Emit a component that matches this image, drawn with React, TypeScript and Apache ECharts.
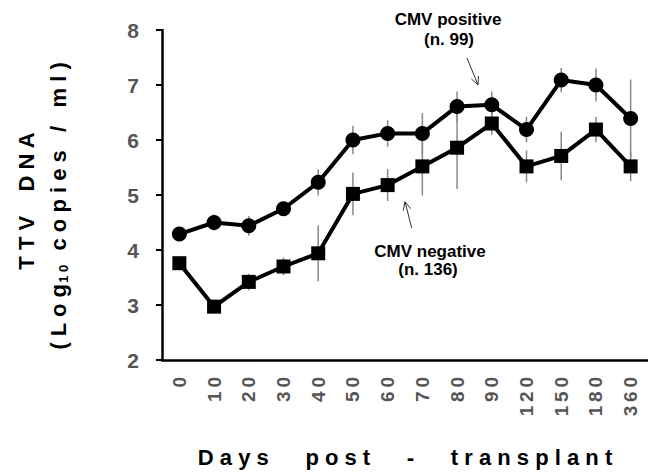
import React, { useEffect, useRef } from "react";
import * as echarts from "echarts";

const categories = ["0", "10", "20", "30", "40", "50", "60", "70", "80", "90", "120", "150", "180", "360"];
const positiveMean = [4.29, 4.5, 4.44, 4.75, 5.23, 6.0, 6.12, 6.12, 6.61, 6.64, 6.19, 7.09, 7.0, 6.39];
const positiveErr = [0.08, 0.15, 0.18, 0.1, 0.24, 0.26, 0.24, 0.37, 0.27, 0.24, 0.23, 0.22, 0.3, 0.71];
const negativeMean = [3.76, 2.97, 3.42, 3.7, 3.94, 5.02, 5.18, 5.52, 5.86, 6.3, 5.52, 5.71, 6.19, 5.52];
const negativeErr = [0.06, 0.05, 0.15, 0.16, 0.51, 0.39, 0.29, 0.53, 0.75, 0.21, 0.29, 0.44, 0.23, 0.27];
const yTicks = { min: 2, max: 8, interval: 1 };

const FONT = "'Liberation Sans', Arial, sans-serif";

function errData(mean: number[], err: number[]) {
  return mean.map((m, i) => [i, m, err[i]]);
}

function arrow(x1: number, y1: number, x2: number, y2: number) {
  const dx = x2 - x1, dy = y2 - y1;
  const len = Math.sqrt(dx * dx + dy * dy);
  const bx = -dx / len, by = -dy / len;
  const a = (25 * Math.PI) / 180, h = 9;
  const c = Math.cos(a), s = Math.sin(a);
  const w1 = [x2 + h * (bx * c - by * s), y2 + h * (bx * s + by * c)];
  const w2 = [x2 + h * (bx * c + by * s), y2 + h * (-bx * s + by * c)];
  const st = { stroke: "#333", lineWidth: 1, fill: null };
  return [
    { type: "line", shape: { x1, y1, x2, y2 }, style: st },
    { type: "polyline", shape: { points: [w1, [x2, y2], w2] }, style: st },
  ];
}

export default function App() {
  const ref = useRef<HTMLDivElement>(null);
  useEffect(() => {
    const chart = echarts.init(ref.current!, null, { renderer: "svg" });
    const errorSeries = (mean: number[], err: number[]) => ({
      type: "custom",
      z: 1,
      renderItem: (params: any, api: any) => {
        const x = api.value(0), y = api.value(1), e = api.value(2);
        const t = api.coord([x, y + e]);
        const b = api.coord([x, y - e]);
        return {
          type: "line",
          shape: { x1: t[0], y1: t[1], x2: b[0], y2: b[1] },
          style: { stroke: "#888", lineWidth: 1.5 },
        };
      },
      data: errData(mean, err),
    });
    chart.setOption({
      animation: false,
      grid: { left: 162, top: 30, bottom: 113, right: -7 },
      xAxis: {
        type: "category",
        data: categories,
        axisLine: { lineStyle: { color: "#000", width: 2.5 } },
        axisTick: { show: false },
        axisLabel: {
          rotate: 90,
          fontSize: 19,
          fontWeight: "bold",
          color: "#555",
          fontFamily: FONT,
          margin: 17,
          formatter: (v: string) => v.split("").join("\u2009"),
        },
      },
      yAxis: {
        type: "value",
        min: yTicks.min,
        max: yTicks.max,
        interval: yTicks.interval,
        splitLine: { show: false },
        axisLine: { show: true, lineStyle: { color: "#000", width: 2.5 } },
        axisTick: { show: true, length: 6, lineStyle: { color: "#000", width: 2 } },
        axisLabel: {
          fontSize: 21,
          fontWeight: "bold",
          color: "#555",
          fontFamily: FONT,
          margin: 23,
        },
      },
      series: [
        errorSeries(positiveMean, positiveErr),
        errorSeries(negativeMean, negativeErr),
        {
          type: "line",
          name: "CMV positive",
          data: positiveMean,
          z: 3,
          symbol: "circle",
          symbolSize: 15,
          lineStyle: { color: "#000", width: 4 },
          itemStyle: { color: "#000" },
        },
        {
          type: "line",
          name: "CMV negative",
          data: negativeMean,
          z: 3,
          symbol: "rect",
          symbolSize: 14,
          lineStyle: { color: "#000", width: 4 },
          itemStyle: { color: "#000" },
        },
      ],
      graphic: [
        {
          type: "text",
          x: 26,
          y: 201,
          rotation: Math.PI / 2,
          style: {
            text: "T T V    D N A",
            font: `bold 22px ${FONT}`,
            fill: "#000",
            align: "center",
            verticalAlign: "middle",
          },
        },
        {
          type: "text",
          x: 58,
          y: 206,
          rotation: Math.PI / 2,
          style: {
            text: "( L o g{sub|1 0}  c o p i e s   /   m l )",
            font: `bold 22px ${FONT}`,
            fill: "#000",
            align: "center",
            verticalAlign: "middle",
            rich: {
              sub: { fontSize: 13, fontWeight: "bold", fontFamily: FONT, fill: "#000", padding: [10, 2, 0, 1] },
            },
          },
        },
        {
          type: "text",
          x: 405,
          y: 457,
          style: {
            text: "D a y s      p o s t      -      t r a n s p l a n t",
            font: `bold 22px ${FONT}`,
            fill: "#000",
            align: "center",
            verticalAlign: "middle",
          },
        },
        {
          type: "text",
          x: 448,
          y: 19,
          style: { text: "CMV positive", font: `bold 17px ${FONT}`, fill: "#000", align: "center", verticalAlign: "middle" },
        },
        {
          type: "text",
          x: 449,
          y: 39,
          style: { text: "(n. 99)", font: `bold 17px ${FONT}`, fill: "#000", align: "center", verticalAlign: "middle" },
        },
        {
          type: "text",
          x: 430,
          y: 251,
          style: { text: "CMV negative", font: `bold 17px ${FONT}`, fill: "#000", align: "center", verticalAlign: "middle" },
        },
        {
          type: "text",
          x: 428,
          y: 269,
          style: { text: "(n. 136)", font: `bold 17px ${FONT}`, fill: "#000", align: "center", verticalAlign: "middle" },
        },
        ...arrow(467, 58, 478, 85),
        ...arrow(411.7, 228, 405, 201.7),
      ],
    });
    return () => chart.dispose();
  }, []);
  return <div ref={ref} style={{ position: "fixed", left: 0, top: 0, width: 648, height: 473, background: "#fff" }} />;
}
